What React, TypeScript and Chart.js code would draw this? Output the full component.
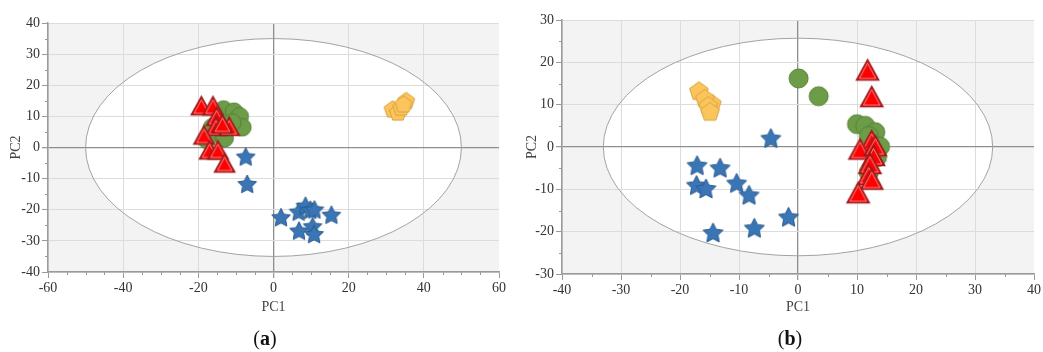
import React, { useEffect, useRef } from "react";
import { Chart, registerables } from "chart.js";

Chart.register(...registerables);

type P = [number, number];

// ---------- Panel (a) data ----------
const aTriangles: P[] = [
  [-19.2, 13.4], [-16.1, 13.4], [-15.1, 10.0], [-15.3, 6.8], [-11.8, 6.8],
  [-13.6, 7.6], [-18.5, 4.0], [-17.0, -0.8], [-14.8, -0.8], [-13.0, -5.0],
];
const aCircles: P[] = [
  [-13.3, 12.2], [-10.5, 11.5], [-9.0, 10.0], [-8.3, 6.5], [-11.0, 8.0],
  [-16.3, 6.5], [-14.4, 4.5], [-17.8, 2.5], [-13.0, 3.0],
];
const aStars: P[] = [
  [-7.4, -2.9], [-7.0, -11.7], [2.0, -22.4], [6.7, -20.6], [8.5, -18.7],
  [9.8, -20.0], [10.9, -19.9], [15.4, -21.6], [6.8, -26.7], [10.4, -25.3],
  [10.8, -27.8],
];
const aPentagons: P[] = [
  [31.7, 12.4], [33.1, 11.4], [34.0, 13.0], [35.3, 15.1], [34.6, 14.0],
];
const aXTicks = [-60, -40, -20, 0, 20, 40, 60];
const aYTicks = [-40, -30, -20, -10, 0, 10, 20, 30, 40];
const aEllipse: P = [50, 35];

// ---------- Panel (b) data ----------
const bTriangles: P[] = [
  [11.8, 18.2], [12.5, 11.9], [12.5, 1.5], [10.5, -0.5], [13.1, 0.3],
  [12.8, -2.0], [12.2, -3.9], [12.0, -6.5], [12.5, -7.6], [10.2, -10.8],
];
const bCircles: P[] = [
  [0.1, 16.2], [3.5, 12.0], [10.0, 5.4], [11.4, 5.0], [13.1, 3.5],
  [12.0, 2.6], [13.9, 0.1], [13.4, -2.4], [12.0, -6.0],
];
const bStars: P[] = [
  [-4.6, 2.1], [-17.1, -4.3], [-13.2, -4.9], [-17.2, -9.0], [-15.6, -9.8],
  [-10.4, -8.5], [-8.3, -11.3], [-1.6, -16.5], [-7.4, -19.1], [-14.4, -20.2],
];
const bPentagons: P[] = [
  [-16.8, 13.3], [-14.6, 10.3], [-15.8, 11.5], [-15.2, 9.8], [-14.9, 8.4],
];
const bXTicks = [-40, -30, -20, -10, 0, 10, 20, 30, 40];
const bYTicks = [-30, -20, -10, 0, 10, 20, 30];
const bEllipse: P = [33, 25.7];

const axisTitleX = "PC1";
const axisTitleY = "PC2";
const captions = ["a", "b"];

const FONT = "Liberation Serif";

// ---------- marker images ----------
function makeCanvas(size: number) {
  const c = document.createElement("canvas");
  c.width = size;
  c.height = size;
  return c;
}

function starImg(outer: number, inner: number, fill: string, stroke: string) {
  const size = Math.ceil(outer * 2 + 4);
  const c = makeCanvas(size);
  const ctx = c.getContext("2d")!;
  const cx = size / 2, cy = size / 2 + 0.9;
  ctx.beginPath();
  for (let i = 0; i < 10; i++) {
    const a = -Math.PI / 2 + (i * Math.PI) / 5;
    const r = i % 2 === 0 ? outer : inner;
    const x = cx + r * Math.cos(a), y = cy + r * Math.sin(a);
    if (i === 0) ctx.moveTo(x, y); else ctx.lineTo(x, y);
  }
  ctx.closePath();
  ctx.fillStyle = fill;
  ctx.fill();
  ctx.lineWidth = 1;
  ctx.strokeStyle = stroke;
  ctx.stroke();
  return c;
}

function pentagonImg(r: number, fill: string, stroke: string) {
  const size = Math.ceil(r * 2 + 4);
  const c = makeCanvas(size);
  const ctx = c.getContext("2d")!;
  const cx = size / 2, cy = size / 2 + 0.8;
  ctx.beginPath();
  for (let i = 0; i < 5; i++) {
    const a = -Math.PI / 2 + (i * 2 * Math.PI) / 5;
    const x = cx + r * Math.cos(a), y = cy + r * Math.sin(a);
    if (i === 0) ctx.moveTo(x, y); else ctx.lineTo(x, y);
  }
  ctx.closePath();
  ctx.fillStyle = fill;
  ctx.fill();
  ctx.lineWidth = 1;
  ctx.strokeStyle = stroke;
  ctx.stroke();
  return c;
}

function triangleImg(w: number, h: number) {
  const size = Math.ceil(Math.max(w, h) + 5);
  const c = makeCanvas(size);
  const ctx = c.getContext("2d")!;
  const cx = size / 2, cy = size / 2;
  const tri = (ww: number, hh: number, dy: number) => {
    ctx.beginPath();
    ctx.moveTo(cx, cy - hh / 2 + dy);
    ctx.lineTo(cx + ww / 2, cy + hh / 2 + dy);
    ctx.lineTo(cx - ww / 2, cy + hh / 2 + dy);
    ctx.closePath();
  };
  tri(w, h, 0);
  ctx.fillStyle = "#ff0000";
  ctx.fill();
  ctx.lineWidth = 1.6;
  ctx.strokeStyle = "#9e1b1b";
  ctx.stroke();
  tri(w - 5.6, h - 4.6, 0.8);
  ctx.lineWidth = 0.8;
  ctx.strokeStyle = "#f4a3a3";
  ctx.stroke();
  return c;
}

function circleImg(r: number) {
  const size = Math.ceil(r * 2 + 4);
  const c = makeCanvas(size);
  const ctx = c.getContext("2d")!;
  ctx.beginPath();
  ctx.arc(size / 2, size / 2, r, 0, Math.PI * 2);
  ctx.fillStyle = "#6c9c47";
  ctx.fill();
  ctx.lineWidth = 1;
  ctx.strokeStyle = "#56803a";
  ctx.stroke();
  return c;
}

type PanelCfg = {
  triangles: P[];
  circles: P[];
  stars: P[];
  pentagons: P[];
  xTicks: number[];
  yTicks: number[];
  ellipse: P;
  padding: { left: number; top: number; right: number; bottom: number };
  yWidth: number;
  xHeight: number;
  marker: { triW: number; triH: number; circle: number; star: number; pent: number };
};

const panelPlugin = {
  id: "panelDeco",
  beforeDraw(chart: any) {
    const { ctx, chartArea } = chart;
    const xs = chart.scales.x, ys = chart.scales.y;
    const [erx, ery] = chart.options.plugins.panelDeco.ellipse;
    ctx.save();
    ctx.fillStyle = "#f3f3f3";
    ctx.fillRect(chartArea.left, chartArea.top, chartArea.right - chartArea.left, chartArea.bottom - chartArea.top);
    const cx = xs.getPixelForValue(0), cy = ys.getPixelForValue(0);
    const rx = xs.getPixelForValue(erx) - cx, ry = cy - ys.getPixelForValue(ery);
    ctx.beginPath();
    ctx.ellipse(cx, cy, rx, ry, 0, 0, Math.PI * 2);
    ctx.fillStyle = "#ffffff";
    ctx.fill();
    ctx.restore();
  },
  beforeDatasetsDraw(chart: any) {
    const { ctx } = chart;
    const xs = chart.scales.x, ys = chart.scales.y;
    const [erx, ery] = chart.options.plugins.panelDeco.ellipse;
    const cx = xs.getPixelForValue(0), cy = ys.getPixelForValue(0);
    const rx = xs.getPixelForValue(erx) - cx, ry = cy - ys.getPixelForValue(ery);
    ctx.save();
    ctx.beginPath();
    ctx.ellipse(cx, cy, rx, ry, 0, 0, Math.PI * 2);
    ctx.lineWidth = 1;
    ctx.strokeStyle = "#a3a3a3";
    ctx.stroke();
    ctx.restore();
  },
  afterDraw(chart: any) {
    const { ctx, chartArea } = chart;
    const xs = chart.scales.x, ys = chart.scales.y;
    ctx.save();
    ctx.strokeStyle = "#9a9a9a";
    ctx.lineWidth = 1;
    for (let v = xs.min; v <= xs.max + 1e-9; v += 5) {
      if (xs.ticks.some((t: any) => Math.abs(t.value - v) < 1e-9)) continue;
      const px = Math.round(xs.getPixelForValue(v)) + 0.5;
      ctx.beginPath();
      ctx.moveTo(px, chartArea.bottom);
      ctx.lineTo(px, chartArea.bottom + 3);
      ctx.stroke();
    }
    for (let v = ys.min; v <= ys.max + 1e-9; v += 5) {
      if (ys.ticks.some((t: any) => Math.abs(t.value - v) < 1e-9)) continue;
      const py = Math.round(ys.getPixelForValue(v)) + 0.5;
      ctx.beginPath();
      ctx.moveTo(chartArea.left - 3, py);
      ctx.lineTo(chartArea.left, py);
      ctx.stroke();
    }
    ctx.restore();
  },
};

function Panel({ cfg, width, height, left }: { cfg: PanelCfg; width: number; height: number; left: number }) {
  const ref = useRef<HTMLCanvasElement | null>(null);
  useEffect(() => {
    if (!ref.current) return;
    const toPts = (arr: P[]) => arr.map(([x, y]) => ({ x, y }));
    const m = cfg.marker;
    const tri = triangleImg(m.triW, m.triH);
    const cir = circleImg(m.circle);
    const star = starImg(m.star, m.star * 0.5, "#3a76b6", "#2a5a8c");
    const pent = pentagonImg(m.pent, "#fbc55c", "#d7a23e");
    const xMin = cfg.xTicks[0], xMax = cfg.xTicks[cfg.xTicks.length - 1];
    const yMin = cfg.yTicks[0], yMax = cfg.yTicks[cfg.yTicks.length - 1];
    const gridColor = (max: number) => (c: any) => {
      const v = c.tick ? c.tick.value : NaN;
      if (v === 0) return "#8e8e8e";
      if (v === max) return "rgba(0,0,0,0)";
      return "#dcdcdc";
    };
    const tickFont = { family: FONT, size: 14 };
    const chart = new Chart(ref.current, {
      type: "scatter",
      data: {
        datasets: [
          { data: toPts(cfg.triangles), pointStyle: tri as any, pointRadius: 8 },
          { data: toPts(cfg.circles), pointStyle: cir as any, pointRadius: 8 },
          { data: toPts(cfg.stars), pointStyle: star as any, pointRadius: 8 },
          { data: toPts(cfg.pentagons), pointStyle: pent as any, pointRadius: 8 },
        ],
      },
      options: {
        animation: false,
        responsive: false,
        events: [],
        font: { family: FONT },
        layout: { padding: cfg.padding },
        plugins: {
          legend: { display: false },
          tooltip: { enabled: false },
          panelDeco: { ellipse: cfg.ellipse },
        } as any,
        scales: {
          x: {
            type: "linear",
            min: xMin,
            max: xMax,
            afterBuildTicks: (s: any) => {
              s.ticks = cfg.xTicks.map((v) => ({ value: v }));
            },
            afterFit: (s: any) => {
              s.height = cfg.xHeight;
            },
            ticks: {
              color: "#333",
              font: tickFont,
              padding: 2,
              maxRotation: 0,
              autoSkip: false,
            },
            grid: {
              color: gridColor(xMax),
              tickColor: "#9a9a9a",
              tickLength: 6,
              lineWidth: (c: any) => (c.tick && c.tick.value === 0 ? 1.3 : 1),
            },
            border: { display: true, color: "#9a9a9a", width: 1.5 },
            title: {
              display: true,
              text: axisTitleX,
              color: "#444",
              font: tickFont,
              padding: { top: 4, bottom: 4 },
            },
          },
          y: {
            type: "linear",
            min: yMin,
            max: yMax,
            afterBuildTicks: (s: any) => {
              s.ticks = cfg.yTicks.map((v) => ({ value: v }));
            },
            afterFit: (s: any) => {
              s.width = cfg.yWidth;
            },
            ticks: {
              color: "#333",
              font: tickFont,
              padding: 2,
              autoSkip: false,
            },
            grid: {
              color: gridColor(Infinity),
              tickColor: "#9a9a9a",
              tickLength: 6,
              lineWidth: (c: any) => (c.tick && c.tick.value === 0 ? 1.3 : 1),
            },
            border: { display: true, color: "#9a9a9a", width: 1.5 },
            title: {
              display: true,
              text: axisTitleY,
              color: "#444",
              font: tickFont,
              padding: { top: 4, bottom: 4 },
            },
          },
        },
      },
      plugins: [panelPlugin as any],
    });
    return () => chart.destroy();
  }, [cfg]);
  return (
    <canvas
      ref={ref}
      width={width}
      height={height}
      style={{ position: "absolute", left, top: 0, width, height, display: "block" }}
    />
  );
}

const cfgA: PanelCfg = {
  triangles: aTriangles,
  circles: aCircles,
  stars: aStars,
  pentagons: aPentagons,
  xTicks: aXTicks,
  yTicks: aYTicks,
  ellipse: aEllipse,
  padding: { left: 4, top: 23, right: 21, bottom: 32 },
  yWidth: 44,
  xHeight: 48,
  marker: { triW: 20, triH: 18, circle: 8.8, star: 9.8, pent: 9 },
};

const cfgB: PanelCfg = {
  triangles: bTriangles,
  circles: bCircles,
  stars: bStars,
  pentagons: bPentagons,
  xTicks: bXTicks,
  yTicks: bYTicks,
  ellipse: bEllipse,
  padding: { left: 0, top: 20, right: 9, bottom: 32 },
  yWidth: 42,
  xHeight: 46,
  marker: { triW: 22, triH: 20, circle: 9.5, star: 10.5, pent: 9.8 },
};

function Caption({ letter, x }: { letter: string; x: number }) {
  return (
    <div
      style={{
        position: "absolute",
        left: x,
        top: 338,
        transform: "translate(-50%, -50%)",
        fontFamily: FONT,
        fontSize: 20,
        color: "#111",
        whiteSpace: "nowrap",
        lineHeight: 1,
      }}
    >
      (<b>{letter}</b>)
    </div>
  );
}

export default function App() {
  return (
    <div
      style={{
        position: "fixed",
        left: 0,
        top: 0,
        width: 1043,
        height: 352,
        background: "#ffffff",
        overflow: "hidden",
      }}
    >
      <Panel cfg={cfgA} width={520} height={352} left={0} />
      <Panel cfg={cfgB} width={523} height={352} left={520} />
      <Caption letter={captions[0]} x={265} />
      <Caption letter={captions[1]} x={790} />
    </div>
  );
}
